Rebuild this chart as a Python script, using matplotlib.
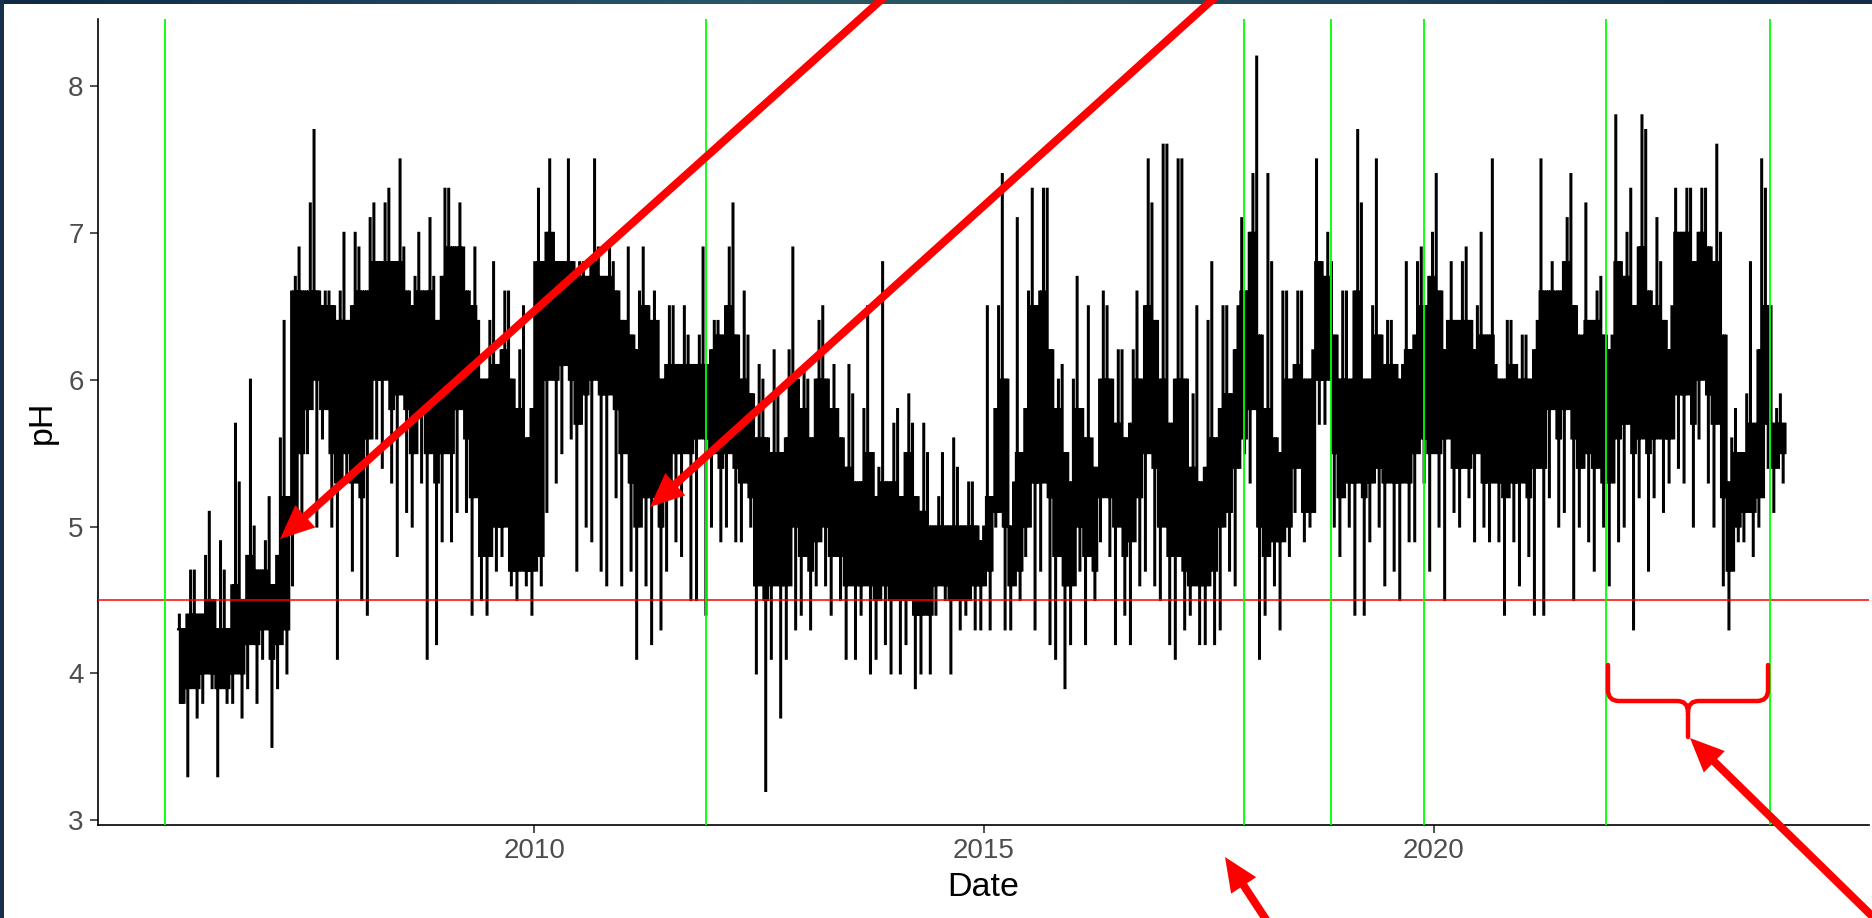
import numpy as np
import matplotlib
matplotlib.use("Agg")
import matplotlib.pyplot as plt
from matplotlib.patches import FancyArrow, Rectangle, PathPatch
from matplotlib.path import Path
from matplotlib.colors import LinearSegmentedColormap

plt.rcParams["font.family"] = ["Liberation Sans", "DejaVu Sans"]

# ---------------------------------------------------------------------------
# Monthly pH envelopes, Jan 2006 .. Nov 2023 (one value per month)
#   ph_max / ph_min         : extreme readings in the month
#   ph_core_hi / ph_core_lo : band holding most of the readings
# ---------------------------------------------------------------------------
ph_max = [
    4.4, 4.7, 4.7, 4.8, 5.1, 4.9, 4.7, 5.7, 5.3, 6.0, 5.0, 4.9,   # 2006
    5.2, 5.6, 6.4, 6.7, 6.9, 7.2, 7.7, 6.6, 6.6, 6.6, 7.0, 7.0,   # 2007
    6.9, 7.1, 7.2, 7.2, 7.3, 7.5, 6.9, 6.7, 7.0, 7.1, 6.7, 7.3,   # 2008
    7.3, 7.2, 6.9, 6.9, 6.4, 6.4, 6.8, 6.6, 6.6, 6.2, 6.5, 6.8,   # 2009
    7.3, 7.5, 7.0, 6.8, 7.5, 6.8, 6.8, 7.5, 6.9, 6.9, 6.8, 6.4,   # 2010
    6.9, 6.6, 6.9, 6.6, 6.4, 6.5, 6.5, 6.5, 6.3, 6.3, 6.9, 6.4,   # 2011
    6.4, 6.9, 7.2, 6.6, 6.3, 6.1, 6.0, 6.2, 5.9, 6.2, 6.9, 6.1,   # 2012
    6.0, 6.4, 6.5, 6.1, 5.8, 6.1, 5.9, 5.8, 6.5, 5.4, 6.8, 5.7,   # 2013
    5.8, 5.9, 5.7, 5.7, 5.5, 5.2, 5.5, 5.6, 5.4, 5.3, 5.3, 5.0,   # 2014
    6.5, 6.5, 7.4, 5.3, 7.1, 6.6, 7.3, 7.3, 7.3, 6.0, 6.1, 6.0,   # 2015
    6.7, 6.5, 5.6, 6.6, 6.5, 6.2, 6.2, 6.2, 6.6, 7.5, 7.2, 7.6,   # 2016
    7.6, 7.5, 7.5, 5.9, 6.5, 6.4, 6.8, 6.5, 6.5, 6.5, 7.1, 7.4,   # 2017
    8.2, 7.4, 6.8, 6.6, 6.6, 6.6, 6.6, 6.2, 7.5, 7.0, 6.8, 6.6,   # 2018
    6.6, 7.7, 7.2, 6.5, 7.5, 6.4, 6.4, 6.1, 6.8, 6.8, 6.9, 7.0,   # 2019
    7.4, 6.4, 6.8, 6.8, 6.9, 6.5, 7.0, 7.5, 6.1, 6.4, 6.4, 6.3,   # 2020
    6.3, 6.4, 7.5, 6.8, 6.6, 7.1, 7.4, 6.2, 7.2, 6.6, 6.7, 6.3,   # 2021
    7.8, 7.0, 7.3, 7.8, 7.7, 7.1, 6.8, 6.5, 7.3, 7.3, 7.3, 7.3,   # 2022
    7.3, 7.6, 7.0, 5.6, 5.8, 5.9, 6.8, 7.5, 7.3, 5.8, 5.9,        # 2023
]
ph_core_hi = [
    4.3, 4.4, 4.4, 4.4, 4.5, 4.3, 4.3, 4.6, 4.5, 4.8, 4.7, 4.7,
    4.6, 4.8, 5.2, 6.6, 6.6, 6.6, 6.6, 6.5, 6.5, 6.4, 6.4, 6.5,
    6.6, 6.6, 6.8, 6.8, 6.8, 6.8, 6.6, 6.5, 6.6, 6.6, 6.4, 6.7,
    6.9, 6.9, 6.6, 6.5, 6.0, 6.0, 6.1, 6.2, 6.0, 5.8, 5.6, 5.8,
    6.8, 7.0, 6.8, 6.8, 6.8, 6.7, 6.7, 6.8, 6.7, 6.7, 6.6, 6.4,
    6.3, 6.2, 6.5, 6.4, 6.0, 6.1, 6.1, 6.1, 6.1, 6.1, 6.1, 6.2,
    6.3, 6.5, 6.3, 6.0, 5.9, 5.6, 5.6, 5.5, 5.5, 5.6, 6.0, 5.8,
    5.6, 6.0, 6.0, 5.8, 5.6, 5.4, 5.3, 5.3, 5.5, 5.2, 5.3, 5.3,
    5.2, 5.5, 5.2, 5.1, 5.0, 5.0, 5.0, 5.0, 5.0, 5.0, 5.0, 4.9,
    5.2, 5.8, 6.0, 5.0, 5.5, 5.8, 6.5, 6.6, 6.2, 5.8, 5.5, 5.3,
    5.8, 5.6, 5.4, 6.0, 6.0, 5.7, 5.6, 5.7, 6.0, 6.5, 6.4, 6.0,
    5.7, 6.0, 6.0, 5.4, 5.3, 5.4, 5.6, 5.8, 5.9, 6.2, 6.6, 7.0,
    6.3, 5.8, 5.6, 5.5, 6.0, 6.1, 6.0, 6.0, 6.8, 6.7, 6.3, 6.0,
    6.0, 6.6, 6.0, 6.0, 6.3, 6.1, 6.1, 6.0, 6.2, 6.3, 6.5, 6.7,
    6.6, 6.2, 6.4, 6.4, 6.4, 6.2, 6.3, 6.3, 6.0, 6.0, 6.1, 6.0,
    6.0, 6.2, 6.6, 6.6, 6.6, 6.8, 6.5, 6.3, 6.4, 6.4, 6.3, 6.2,
    6.8, 6.7, 6.5, 6.9, 6.6, 6.5, 6.4, 6.2, 7.0, 7.0, 6.8, 7.0,
    6.9, 6.8, 6.3, 5.3, 5.5, 5.5, 5.7, 6.2, 6.5, 5.7, 5.7,
]
ph_core_lo = [
    3.8, 3.9, 3.9, 4.0, 4.0, 3.9, 3.9, 4.0, 4.0, 4.2, 4.2, 4.3,
    4.1, 4.2, 4.3, 5.0, 5.5, 5.8, 6.0, 5.8, 5.5, 5.3, 5.5, 5.3,
    5.2, 5.6, 6.0, 6.0, 5.8, 5.9, 5.8, 5.5, 5.8, 5.5, 5.3, 5.5,
    5.5, 5.8, 5.6, 5.2, 4.8, 4.8, 5.0, 5.0, 4.7, 4.7, 4.7, 4.7,
    4.8, 6.0, 6.0, 6.1, 6.0, 5.7, 5.9, 6.0, 5.9, 5.9, 5.8, 5.5,
    5.3, 5.0, 5.2, 5.2, 5.0, 5.3, 5.5, 5.5, 5.5, 5.6, 5.6, 5.5,
    5.4, 5.5, 5.4, 5.3, 5.2, 4.6, 4.5, 4.6, 4.6, 4.6, 5.0, 4.8,
    4.7, 4.9, 5.0, 4.8, 4.8, 4.6, 4.6, 4.6, 4.6, 4.5, 4.6, 4.5,
    4.5, 4.5, 4.4, 4.4, 4.4, 4.6, 4.6, 4.5, 4.5, 4.5, 4.6, 4.6,
    4.7, 5.1, 5.0, 4.6, 4.7, 5.0, 5.3, 5.3, 5.2, 4.8, 4.6, 4.6,
    5.0, 4.8, 4.7, 5.2, 5.2, 5.0, 4.8, 4.9, 5.2, 5.5, 5.4, 5.0,
    4.8, 4.8, 4.7, 4.6, 4.6, 4.6, 4.7, 5.0, 5.1, 5.4, 5.6, 5.8,
    5.0, 4.8, 4.9, 4.9, 5.0, 5.4, 5.1, 5.1, 6.0, 6.0, 5.5, 5.2,
    5.3, 5.3, 5.2, 5.3, 5.4, 5.3, 5.3, 5.3, 5.3, 5.5, 5.6, 5.5,
    5.5, 5.6, 5.4, 5.4, 5.4, 5.5, 5.3, 5.3, 5.3, 5.2, 5.3, 5.3,
    5.2, 5.4, 5.4, 5.8, 5.6, 5.8, 5.6, 5.4, 5.5, 5.4, 5.3, 5.3,
    5.6, 5.7, 5.5, 5.6, 5.5, 5.6, 5.6, 5.6, 5.9, 5.9, 5.7, 6.0,
    5.9, 5.7, 5.2, 4.7, 5.0, 5.1, 5.1, 5.2, 5.7, 5.4, 5.5,
]
ph_min = [
    3.8, 3.3, 3.7, 3.8, 3.9, 3.3, 3.8, 3.8, 3.7, 3.9, 3.8, 4.1,
    3.5, 3.9, 4.0, 4.6, 5.0, 5.5, 5.0, 5.6, 5.0, 4.1, 5.3, 4.7,
    4.5, 4.4, 5.6, 5.4, 5.3, 4.8, 5.1, 5.0, 5.3, 4.1, 4.2, 4.9,
    4.9, 5.1, 5.1, 4.4, 4.5, 4.4, 4.7, 4.8, 4.6, 4.5, 4.6, 4.4,
    4.6, 5.1, 5.3, 5.5, 5.6, 4.7, 5.0, 4.9, 4.7, 4.6, 5.2, 4.6,
    4.7, 4.1, 4.6, 4.2, 4.3, 4.7, 4.9, 4.8, 4.5, 4.5, 4.4, 5.0,
    4.9, 5.0, 4.9, 4.9, 5.0, 4.0, 3.2, 4.1, 3.7, 4.1, 4.3, 4.4,
    4.3, 4.6, 4.6, 4.4, 4.5, 4.1, 4.1, 4.4, 4.0, 4.1, 4.2, 4.0,
    4.0, 4.2, 3.9, 4.0, 4.0, 4.4, 4.5, 4.0, 4.3, 4.4, 4.3, 4.3,
    4.3, 5.0, 4.3, 4.3, 4.5, 4.8, 4.3, 4.7, 4.2, 4.1, 3.9, 4.2,
    4.7, 4.2, 4.5, 4.9, 4.8, 4.2, 4.4, 4.2, 4.6, 4.7, 4.6, 4.5,
    4.2, 4.1, 4.3, 4.4, 4.2, 4.2, 4.2, 4.3, 4.7, 4.6, 5.5, 5.3,
    4.1, 4.4, 4.6, 4.3, 4.8, 5.1, 4.9, 5.0, 5.7, 5.7, 5.0, 4.8,
    5.0, 4.4, 4.4, 4.9, 5.0, 4.6, 4.7, 4.5, 4.9, 4.9, 5.3, 4.7,
    5.0, 4.5, 5.1, 5.0, 5.2, 4.9, 5.0, 4.9, 4.9, 4.4, 4.9, 4.6,
    4.8, 4.4, 4.4, 5.2, 5.0, 5.1, 4.5, 5.0, 4.9, 4.7, 5.0, 4.6,
    4.9, 5.0, 4.3, 5.2, 4.7, 5.2, 5.1, 5.3, 5.4, 5.3, 5.0, 5.6,
    5.3, 5.0, 4.6, 4.3, 4.9, 4.9, 4.8, 5.0, 5.4, 5.1, 5.3,
]

series_start = 2006.04          # first reading (decimal year)
series_end = 2023.91            # last reading (decimal year)
event_dates = [2005.894, 2011.906, 2017.891, 2018.861, 2019.896, 2021.913, 2023.732]
ph_threshold = 4.5
x_ticks = [2010, 2015, 2020]
y_ticks = [3, 4, 5, 6, 7, 8]

# Order in which each month's readings move through its envelope; odd and
# even months place their extremes at different points of the month.
visit_orders = [
    ["core_hi", "max", "core_lo", "core_hi", "min", "core_hi", "core_lo", "core_hi"],
    ["core_lo", "core_hi", "min", "core_hi", "core_lo", "max", "core_hi", "core_lo"],
]
envelopes = {"max": ph_max, "core_hi": ph_core_hi, "core_lo": ph_core_lo, "min": ph_min}
n_months = len(ph_max)
ph = np.array([[envelopes[k][m] for k in visit_orders[m % 2]]
               for m in range(n_months)]).ravel()
t = np.linspace(series_start, series_end, ph.size)

# ---------------------------------------------------------------------------
W, H = 1872, 918
fig = plt.figure(figsize=(W / 100, H / 100), dpi=100)
fig.patch.set_facecolor("white")

left, right, top, bottom = 98, 1869, 19, 825
ax = fig.add_axes([left / W, (H - bottom) / H, (right - left) / W, (bottom - top) / H])
ax.set_facecolor("white")

ax.plot(t, ph, color="black", lw=1.5, drawstyle="steps-post", zorder=2,
        solid_joinstyle="miter")
ax.axhline(ph_threshold, color="#FF0000", lw=1.1, zorder=3)
for d in event_dates:
    ax.axvline(d, color="#00FF00", lw=1.3, zorder=4)

ax.set_xlim(2005.151, 2024.838)
ax.set_ylim(2.968, 8.456)
ax.set_xticks(x_ticks)
ax.set_xticklabels([str(v) for v in x_ticks])
ax.set_yticks(y_ticks)
ax.set_yticklabels([str(v) for v in y_ticks])

for side in ("top", "right"):
    ax.spines[side].set_visible(False)
for side in ("left", "bottom"):
    ax.spines[side].set_linewidth(1.2)
    ax.spines[side].set_color("black")
ax.tick_params(axis="both", direction="out", length=5.8, width=1.2, color="#333333",
               labelcolor="#4D4D4D", labelsize=20)
ax.tick_params(axis="x", pad=3.5)
ax.tick_params(axis="y", pad=4.5)

ax.set_xlabel("Date", fontsize=24.5, color="black", va="center")
ax.xaxis.set_label_coords(0.5, -(887 - bottom) / (bottom - top))
ax.set_ylabel("pH", fontsize=24.5, color="black", va="center", ha="center")
ax.yaxis.set_label_coords(-(left - 42) / (right - left), 0.5)

# ---------------------------------------------------------------------------
# Overlay in pixel coordinates for the frame, arrows and brace
ov = fig.add_axes([0, 0, 1, 1], zorder=10)
ov.patch.set_alpha(0)
ov.axis("off")

frame_cmap = LinearSegmentedColormap.from_list(
    "frame", ["#0f2946", "#1b3f5c", "#2a5868", "#27515f", "#1a3a55", "#132c48"])
ov.imshow(np.linspace(0, 1, 400)[None, :], cmap=frame_cmap, aspect="auto",
          extent=[0, W, 4.5, 0], zorder=1)
ov.add_patch(Rectangle((0, 0), 4, H, color="#16304d", lw=0, zorder=1))
ov.set_xlim(0, W)
ov.set_ylim(H, 0)


def red_arrow(tip, through, extend):
    dx, dy = through[0] - tip[0], through[1] - tip[1]
    tail = (tip[0] + extend * dx, tip[1] + extend * dy)
    ov.add_patch(FancyArrow(tail[0], tail[1], tip[0] - tail[0], tip[1] - tail[1],
                            width=8, head_width=30, head_length=34,
                            length_includes_head=True, color="#FF0000", lw=0,
                            zorder=5, clip_on=False))


red_arrow((280, 539), (881, 0), 1.15)
red_arrow((650, 507), (1212, 0), 1.15)
red_arrow((1225, 857), (1265, 918), 1.6)
red_arrow((1690, 738), (1869, 913), 1.3)

# curly brace spanning the last two event markers
bx0, bx1, bxm = 1608, 1768, 1688
by_top, by_mid, by_tip, r = 665, 701, 737, 11
verts = [
    (bx0, by_top), (bx0, by_mid - r), (bx0, by_mid), (bx0 + r, by_mid),
    (bxm - r, by_mid), (bxm, by_mid), (bxm, by_mid + r), (bxm, by_tip),
    (bxm, by_mid + r), (bxm, by_mid), (bxm + r, by_mid),
    (bx1 - r, by_mid), (bx1, by_mid), (bx1, by_mid - r), (bx1, by_top),
]
codes = [Path.MOVETO, Path.LINETO, Path.CURVE3, Path.CURVE3,
         Path.LINETO, Path.CURVE3, Path.CURVE3, Path.LINETO,
         Path.MOVETO, Path.CURVE3, Path.CURVE3,
         Path.LINETO, Path.CURVE3, Path.CURVE3, Path.LINETO]
ov.add_patch(PathPatch(Path(verts, codes), fill=False, edgecolor="#FF0000", lw=3.2,
                       capstyle="round", joinstyle="round", zorder=5))

fig.savefig("out.png", dpi=100, facecolor="white")
